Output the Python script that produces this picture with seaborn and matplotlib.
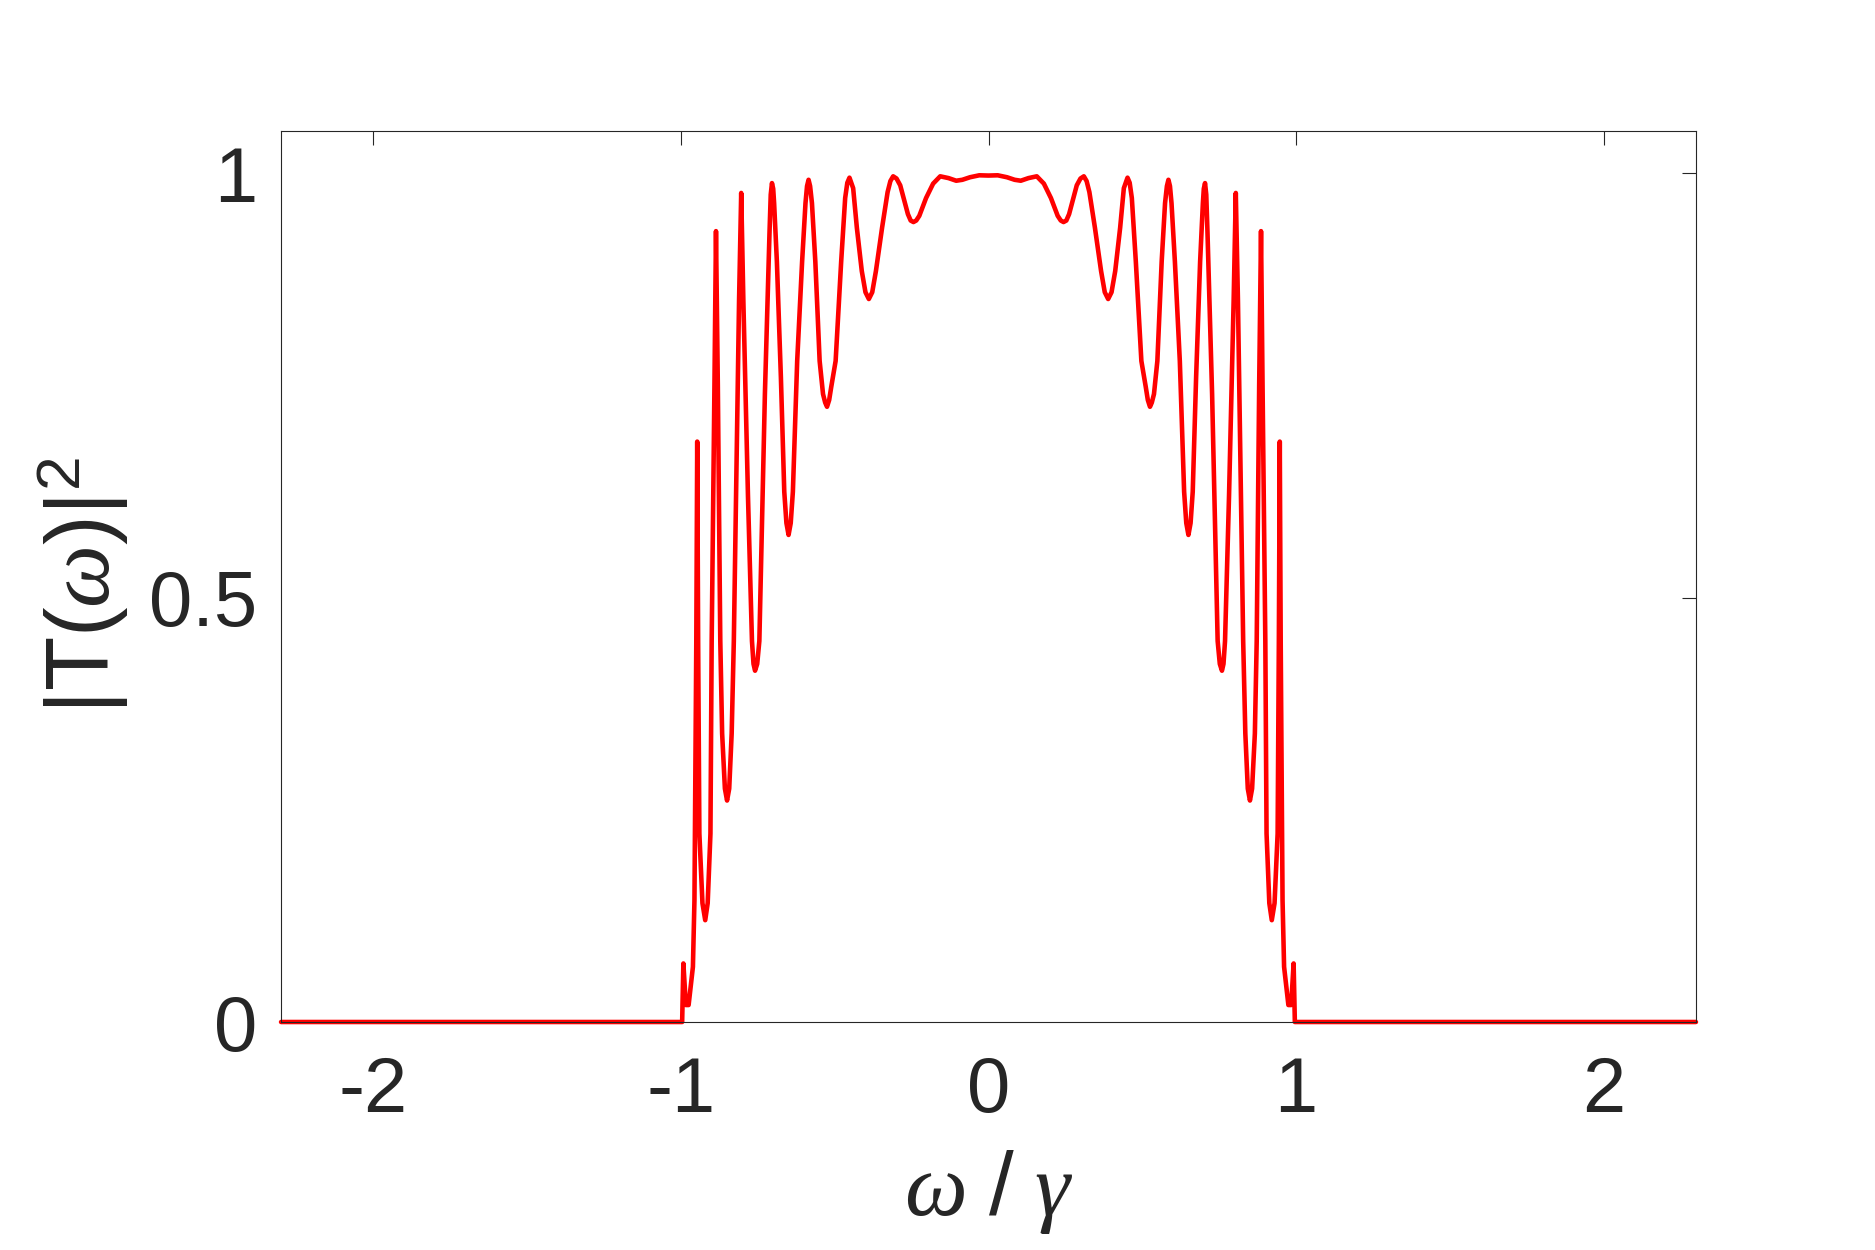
import numpy as np
import pandas as pd
import seaborn as sns
import matplotlib
matplotlib.use("Agg")
import matplotlib.pyplot as plt

# transmission spectrum, left half (omega < 0)
omega_left = [-2.300, -1.000, -0.996, -0.992, -0.984, -0.975, -0.961, -0.956, -0.950, -0.947,
              -0.944, -0.940, -0.930, -0.921, -0.913, -0.904, -0.900, -0.891, -0.886, -0.880,
              -0.872, -0.866, -0.857, -0.850, -0.843, -0.835, -0.828, -0.811, -0.804, -0.797,
              -0.782, -0.769, -0.764, -0.759, -0.752, -0.745, -0.727, -0.712, -0.708, -0.704,
              -0.700, -0.697, -0.688, -0.675, -0.664, -0.657, -0.650, -0.643, -0.636, -0.622,
              -0.606, -0.595, -0.590, -0.585, -0.580, -0.574, -0.563, -0.549, -0.538, -0.531,
              -0.525, -0.518, -0.511, -0.497, -0.479, -0.466, -0.459, -0.452, -0.440, -0.428,
              -0.412, -0.400, -0.389, -0.378, -0.366, -0.346, -0.328, -0.319, -0.310, -0.299,
              -0.287, -0.262, -0.253, -0.244, -0.235, -0.225, -0.203, -0.180, -0.157, -0.130,
              -0.105, -0.085, -0.060, -0.030]
trans_left = [0.0, 0.0, 0.0, 0.069, 0.020, 0.020, 0.065, 0.1435, 0.449, 0.684,
              0.449, 0.222, 0.140, 0.120, 0.140, 0.222, 0.449, 0.75, 0.932, 0.75,
              0.449, 0.34, 0.275, 0.261, 0.275, 0.34, 0.449, 0.85, 0.977, 0.85,
              0.62, 0.449, 0.422, 0.414, 0.422, 0.449, 0.7396, 0.93, 0.975, 0.9886,
              0.982, 0.965, 0.896, 0.76, 0.625, 0.588, 0.574, 0.588, 0.625, 0.779,
              0.896, 0.965, 0.985, 0.9925, 0.985, 0.965, 0.896, 0.779, 0.740, 0.730,
              0.725, 0.733, 0.749, 0.779, 0.896, 0.971, 0.989, 0.995, 0.9826, 0.936,
              0.885, 0.860, 0.852, 0.860, 0.885, 0.936, 0.978, 0.991, 0.9966, 0.994,
              0.986, 0.952, 0.9445, 0.9427, 0.9445, 0.950, 0.971, 0.988, 0.9966, 0.9945,
              0.9914, 0.9925, 0.9955, 0.9978]

# right half (omega >= 0)
omega_right = [0.000, 0.030, 0.060, 0.085, 0.105, 0.130, 0.157, 0.180, 0.203, 0.225,
               0.235, 0.244, 0.253, 0.262, 0.287, 0.299, 0.310, 0.319, 0.328, 0.346,
               0.366, 0.378, 0.389, 0.400, 0.412, 0.428, 0.440, 0.452, 0.459, 0.466,
               0.479, 0.497, 0.511, 0.518, 0.525, 0.531, 0.538, 0.549, 0.563, 0.574,
               0.580, 0.585, 0.590, 0.595, 0.606, 0.622, 0.636, 0.643, 0.650, 0.657,
               0.664, 0.675, 0.688, 0.697, 0.700, 0.704, 0.708, 0.712, 0.727, 0.745,
               0.752, 0.759, 0.764, 0.769, 0.782, 0.797, 0.804, 0.811, 0.828, 0.835,
               0.843, 0.850, 0.857, 0.866, 0.872, 0.880, 0.886, 0.891, 0.900, 0.904,
               0.913, 0.921, 0.930, 0.940, 0.944, 0.947, 0.950, 0.956, 0.961, 0.975,
               0.984, 0.992, 0.996, 1.000, 2.300]
trans_right = [0.9975, 0.9978, 0.9955, 0.9925, 0.9914, 0.9945, 0.9966, 0.988, 0.971, 0.950,
               0.9445, 0.9427, 0.9445, 0.952, 0.986, 0.994, 0.9966, 0.991, 0.978, 0.936,
               0.885, 0.860, 0.852, 0.860, 0.885, 0.936, 0.9826, 0.995, 0.989, 0.971,
               0.896, 0.779, 0.749, 0.733, 0.725, 0.730, 0.740, 0.779, 0.896, 0.965,
               0.985, 0.9925, 0.985, 0.965, 0.896, 0.779, 0.625, 0.588, 0.574, 0.588,
               0.625, 0.76, 0.896, 0.965, 0.982, 0.9886, 0.975, 0.93, 0.7396, 0.449,
               0.422, 0.414, 0.422, 0.449, 0.62, 0.85, 0.977, 0.85, 0.449, 0.34,
               0.275, 0.261, 0.275, 0.34, 0.449, 0.75, 0.932, 0.75, 0.449, 0.222,
               0.140, 0.120, 0.140, 0.222, 0.449, 0.684, 0.449, 0.1435, 0.065, 0.020,
               0.020, 0.069, 0.0, 0.0, 0.0]

x_ticks = [-2, -1, 0, 1, 2]
y_ticks = [0, 0.5, 1]
y_ticklabels = ["0", "0.5", "1"]

df = pd.DataFrame({
    "omega": np.concatenate([omega_left, omega_right]),
    "T2": np.concatenate([trans_left, trans_right]),
})

sns.set_style("white")
plt.rcParams["font.family"] = ["Liberation Sans", "DejaVu Sans"]
plt.rcParams["mathtext.fontset"] = "custom"
plt.rcParams["mathtext.rm"] = "Liberation Sans"
plt.rcParams["mathtext.it"] = "Liberation Serif:italic"

fig = plt.figure(figsize=(18.75, 12.5), dpi=100)
ax = fig.add_axes([0.1499, 0.1824, 0.7546, 0.7128])

sns.lineplot(data=df, x="omega", y="T2", ax=ax, color="#ff0000", linewidth=3.3,
             sort=False, estimator=None, clip_on=False,
             solid_joinstyle="round", solid_capstyle="round")

ax.set_xlim(-2.3, 2.3)
ax.set_ylim(0, 1.05)
ax.set_xticks(x_ticks)
ax.set_xticklabels([str(t) for t in x_ticks])
ax.set_yticks(y_ticks)
ax.set_yticklabels(y_ticklabels)

for s in ax.spines.values():
    s.set_visible(True)
    s.set_linewidth(0.8)
    s.set_color("#262626")

ax.tick_params(axis="both", which="major", direction="in", length=10, width=0.8,
               colors="#262626", labelsize=56, top=True, right=True)
ax.tick_params(axis="x", pad=24)
ax.tick_params(axis="y", pad=17)

ax.set_xlabel(r"$\omega\ /\ \gamma$", fontsize=64, color="#262626", labelpad=14)
ax.set_ylabel(r"$|\mathrm{T}(\omega)|^2$", fontsize=64, color="#262626", va="center")
ax.yaxis.set_label_coords(-0.14, 0.49)

fig.savefig("out.png", dpi=100, facecolor="white")
